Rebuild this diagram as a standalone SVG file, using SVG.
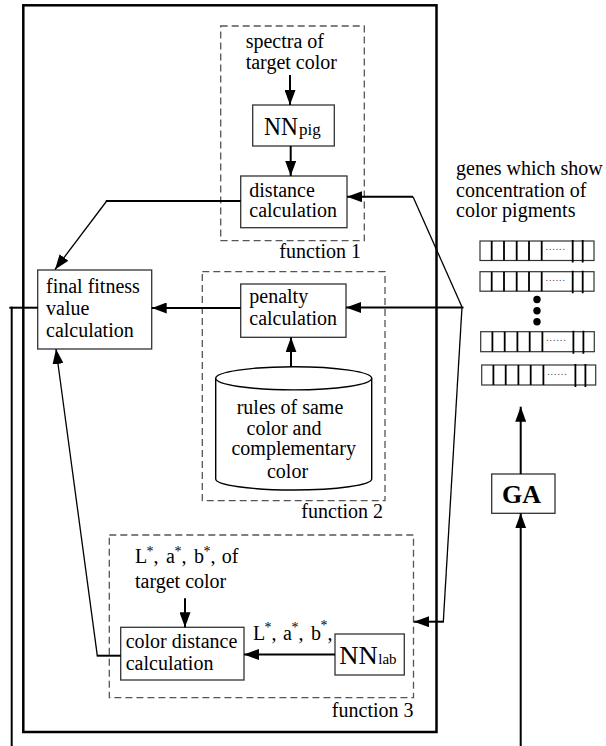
<svg xmlns="http://www.w3.org/2000/svg" width="606" height="746" viewBox="0 0 606 746">
<style>
text{font-family:"Liberation Serif","Times New Roman",serif;font-size:20px;fill:#000}
.box{fill:#fff;stroke:#333;stroke-width:1.3}
.dash{fill:none;stroke:#555;stroke-width:1.3;stroke-dasharray:7,4}
.thick{fill:none;stroke:#000;stroke-width:2}
.thin{fill:none;stroke:#000;stroke-width:1.3}
.arr{marker-end:url(#ah)}
.gene{fill:#fff;stroke:#333;stroke-width:1.2}
.div{stroke:#000;stroke-width:1.8}
.sm{font-size:14px}
.nn{font-size:25px}
.sub{font-size:17px}
.sub2{font-size:15px}
text.ga{font-size:26px;font-weight:bold}
text.dots{font-size:10px;letter-spacing:0.9px;fill:#444}
</style>
<defs>
<marker id="ah" markerUnits="userSpaceOnUse" markerWidth="15" markerHeight="11" refX="15" refY="5.5" orient="auto">
<path d="M0,0 L15,5.5 L0,11 z" fill="#000"/>
</marker>
</defs>
<rect x="23.3" y="5.3" width="413.2" height="726.7" fill="none" stroke="#000" stroke-width="2.5"/>
<g id="function1">
<rect class="dash" x="220.7" y="26" width="143.6" height="214.7"/>
<text x="361" y="258.3" text-anchor="end">function 1</text>
</g>
<g id="function2">
<rect class="dash" x="202.3" y="271.7" width="182.7" height="229"/>
<text x="383" y="518.3" text-anchor="end">function 2</text>
</g>
<g id="function3">
<rect class="dash" x="109.3" y="535" width="304.2" height="162.7"/>
<text x="413.5" y="716.7" text-anchor="end">function 3</text>
</g>
<g id="spectra">
<text x="245.7" y="48.3">spectra of</text>
<text x="245.7" y="69">target color</text>
</g>
<g id="nnpig">
<rect class="box" x="252.7" y="105" width="81.6" height="41"/>
<text x="264" y="135"><tspan class="nn" textLength="34" lengthAdjust="spacingAndGlyphs">NN</tspan><tspan x="299" class="sub">pig</tspan></text>
</g>
<g id="distance">
<rect class="box" x="240.7" y="176" width="106.3" height="51.7"/>
<text x="249.3" y="196.7">distance</text>
<text x="249.3" y="216.7">calculation</text>
</g>
<g id="final">
<rect class="box" x="37.7" y="270" width="114" height="79"/>
<text x="46" y="293.3">final fitness</text>
<text x="46" y="315">value</text>
<text x="46" y="336.7">calculation</text>
</g>
<g id="penalty">
<rect class="box" x="240.7" y="284" width="105.3" height="53.3"/>
<text x="249.3" y="303.3">penalty</text>
<text x="249.3" y="325">calculation</text>
</g>
<g id="rules">
<path d="M215.7,378.3 L215.7,479 A78,11 0 0 0 371.7,479 L371.7,378.3" fill="#fff" stroke="#000" stroke-width="1.4"/>
<ellipse cx="293.7" cy="378.3" rx="78" ry="11.6" fill="#fff" stroke="#000" stroke-width="1.4"/>
<text x="290" y="414" text-anchor="middle">rules of same</text>
<text x="284" y="435" text-anchor="middle">color and</text>
<text x="293.7" y="455" text-anchor="middle">complementary</text>
<text x="287.5" y="478.3" text-anchor="middle">color</text>
</g>
<g id="lab-target">
<text><tspan x="135" y="563.3">L</tspan><tspan x="146.5" y="555.5" class="sm">*</tspan><tspan x="153.5" y="563.3">,</tspan><tspan x="166" y="563.3">a</tspan><tspan x="174.5" y="555.5" class="sm">*</tspan><tspan x="181.5" y="563.3">,</tspan><tspan x="194" y="563.3">b</tspan><tspan x="203.5" y="555.5" class="sm">*</tspan><tspan x="210.5" y="563.3">,</tspan><tspan x="221.7" y="563.3">of</tspan></text>
<text x="135" y="588.3">target color</text>
</g>
<g id="colordistance">
<rect class="box" x="120.7" y="627.3" width="123.3" height="52.7"/>
<text x="125.7" y="648.3">color distance</text>
<text x="125.7" y="670">calculation</text>
</g>
<g id="nnlab">
<rect class="box" x="335" y="634" width="69.3" height="41"/>
<text x="339.3" y="664"><tspan class="nn" textLength="38.5" lengthAdjust="spacingAndGlyphs">NN</tspan><tspan x="378.3" class="sub2">lab</tspan></text>
</g>
<g id="lab-output">
<text><tspan x="253" y="640">L</tspan><tspan x="264.5" y="632.2" class="sm">*</tspan><tspan x="271.5" y="640">,</tspan><tspan x="283" y="640">a</tspan><tspan x="291.5" y="632.2" class="sm">*</tspan><tspan x="298.5" y="640">,</tspan><tspan x="311" y="640">b</tspan><tspan x="320.5" y="629.5" class="sm">*</tspan><tspan x="327.5" y="640">,</tspan></text>
</g>
<g id="genes-label">
<text x="456" y="175">genes which show</text>
<text x="456" y="196.7">concentration of</text>
<text x="456" y="216.7">color pigments</text>
</g>
<g id="genes">
<g transform="translate(480,241)">
<rect class="gene" x="0" y="0" width="114" height="19.5"/>
<path class="div" d="M11.7,0V19.5M24,0V19.5M36.7,0V19.5M49,0V19.5M61.7,0V19.5M92.7,-1V21.5M102.7,-1V21.5"/>
<text class="dots" x="65.5" y="9">......</text>
</g>
<g transform="translate(480,271.7)">
<rect class="gene" x="0" y="0" width="114" height="19.5"/>
<path class="div" d="M11.7,0V19.5M24,0V19.5M36.7,0V19.5M49,0V19.5M61.7,0V19.5M92.7,-1V21.5M102.7,-1V21.5"/>
<text class="dots" x="65.5" y="9">......</text>
</g>
<circle cx="537" cy="299.5" r="3.7"/>
<circle cx="537" cy="310.8" r="3.7"/>
<circle cx="537" cy="321.7" r="3.7"/>
<g transform="translate(480.7,331.7)">
<rect class="gene" x="0" y="0" width="113.6" height="20"/>
<path class="div" d="M11.7,0V20M24,0V20M36.7,0V20M49,0V20M61.7,0V20M92.7,-1V22M102.7,-1V22"/>
<text class="dots" x="65.5" y="9.5">......</text>
</g>
<g transform="translate(481.7,365)">
<rect class="gene" x="0" y="0" width="114" height="20"/>
<path class="div" d="M11.7,0V20M24,0V20M36.7,0V20M49,0V20M61.7,0V20M93.7,-1V22M103.7,-1V22"/>
<text class="dots" x="65.5" y="9.5">......</text>
</g>
</g>
<g id="ga">
<rect class="box" x="491.7" y="474" width="63.3" height="39.3"/>
<text class="ga" x="502" y="503.3">GA</text>
</g>
<g id="connectors">
<line class="thick arr" x1="290" y1="75" x2="290" y2="105"/>
<line class="thick arr" x1="290.7" y1="146" x2="290.7" y2="176"/>
<line class="thin" x1="462" y1="307" x2="413" y2="196.7" stroke-width="1.6"/>
<line class="thick arr" x1="413" y1="196.7" x2="347" y2="196.7"/>
<line class="thick arr" x1="463.5" y1="307.5" x2="346" y2="307.5"/>
<line class="thin" x1="462" y1="307" x2="443.3" y2="621.7"/>
<line class="thick arr" x1="444" y1="621.7" x2="414" y2="621.7"/>
<line class="thick" x1="240.7" y1="201" x2="105.8" y2="201"/>
<line class="thin arr" x1="106.7" y1="201" x2="55" y2="269.5" stroke-width="1.6"/>
<line class="thick arr" x1="240.7" y1="308" x2="151.7" y2="308"/>
<line class="thick arr" x1="291" y1="366.7" x2="291" y2="337.3"/>
<line class="thick arr" x1="185" y1="598.3" x2="185" y2="627.3"/>
<line class="thick arr" x1="335" y1="654.5" x2="244" y2="654.5"/>
<line class="thick" x1="120.7" y1="655.7" x2="96.7" y2="655.7"/>
<line class="thin arr" x1="97.3" y1="655.7" x2="56" y2="349"/>
<line class="thick" x1="38" y1="307.7" x2="9.3" y2="307.7"/>
<line class="thick" x1="11.7" y1="306.7" x2="11.7" y2="746"/>
<line class="thick arr" x1="520.7" y1="474" x2="520.7" y2="406.7"/>
<line class="thick arr" x1="520.7" y1="746" x2="520.7" y2="513.3"/>
</g>
</svg>
